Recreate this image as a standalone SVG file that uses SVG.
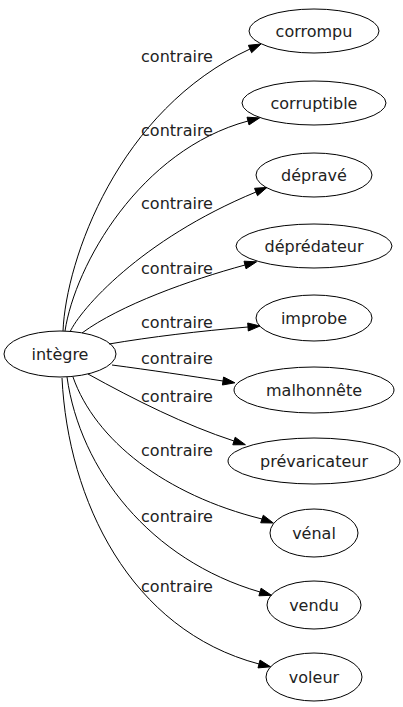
<svg xmlns="http://www.w3.org/2000/svg" width="403" height="707" viewBox="0 0 403 707">
<style>
.n ellipse{fill:none;stroke:#000;stroke-width:1}
text{font-family:"DejaVu Sans",sans-serif;font-size:16px;fill:#222;text-anchor:middle}
.e path{fill:none;stroke:#000;stroke-width:1}
.e polygon{fill:#000;stroke:#000;stroke-width:1}
</style>
<rect width="403" height="707" fill="#fff"/>
<g id="edges" class="e">
<path d="M63,331 C66,260 118,110 250,49"/><polygon points="261,44 251.6,52.7 248.4,45.3"/>
<path d="M65,331 C75,265 140,150 248,121"/><polygon points="259.6,117.9 249,124.9 247,117.2"/>
<path d="M70,332 C80,310 140,240 256,192"/><polygon points="267,187.4 257.5,195.7 254.5,188.3"/>
<path d="M82,333 C120,305 190,280 245,265"/><polygon points="256.6,261.8 246,268.8 244,261.2"/>
<path d="M109,344 C150,337 200,331 248,327"/><polygon points="260,326 248.3,331 247.7,323"/>
<path d="M112,365 C150,370 190,376 223,381"/><polygon points="234.9,382.8 222.4,385 223.6,377"/>
<path d="M88,374 C135,400 185,425 234,441"/><polygon points="245.4,444.7 232.8,444.8 235.2,437.2"/>
<path d="M73,377 C95,440 165,495 262,519"/><polygon points="273.3,523 260.7,522.8 263.3,515.2"/>
<path d="M67,377 C80,470 150,560 260,592"/><polygon points="271.5,595.3 258.9,595.8 261.1,588.2"/>
<path d="M62,378 C68,500 130,630 259,664"/><polygon points="270.6,666.8 258,667.9 260,660.1"/>
<text x="177" y="62">contraire</text>
<text x="177" y="136">contraire</text>
<text x="177" y="209">contraire</text>
<text x="177" y="274">contraire</text>
<text x="177" y="328">contraire</text>
<text x="177" y="364">contraire</text>
<text x="177" y="402">contraire</text>
<text x="177" y="456">contraire</text>
<text x="177" y="522">contraire</text>
<text x="177" y="592">contraire</text>
</g>
<g id="integre" class="n"><ellipse cx="60" cy="354" rx="56" ry="23"/><text x="60" y="359.5">intègre</text></g>
<g id="corrompu" class="n"><ellipse cx="314" cy="31" rx="65" ry="22"/><text x="314" y="36.5">corrompu</text></g>
<g id="corruptible" class="n"><ellipse cx="314" cy="103" rx="72" ry="22"/><text x="314" y="108.5">corruptible</text></g>
<g id="deprave" class="n"><ellipse cx="314" cy="175" rx="58" ry="22"/><text x="314" y="180.5">dépravé</text></g>
<g id="depredateur" class="n"><ellipse cx="314" cy="246" rx="78" ry="22"/><text x="314" y="251.5">déprédateur</text></g>
<g id="improbe" class="n"><ellipse cx="314" cy="318" rx="58" ry="23"/><text x="314" y="323.5">improbe</text></g>
<g id="malhonnete" class="n"><ellipse cx="314" cy="390" rx="80" ry="23"/><text x="314" y="395.5">malhonnête</text></g>
<g id="prevaricateur" class="n"><ellipse cx="314" cy="461" rx="86" ry="23"/><text x="314" y="466.5">prévaricateur</text></g>
<g id="venal" class="n"><ellipse cx="314" cy="533" rx="44" ry="24"/><text x="314" y="538.5">vénal</text></g>
<g id="vendu" class="n"><ellipse cx="314" cy="605" rx="47" ry="24"/><text x="314" y="610.5">vendu</text></g>
<g id="voleur" class="n"><ellipse cx="314" cy="677" rx="48" ry="24"/><text x="314" y="682.5">voleur</text></g>
</svg>
